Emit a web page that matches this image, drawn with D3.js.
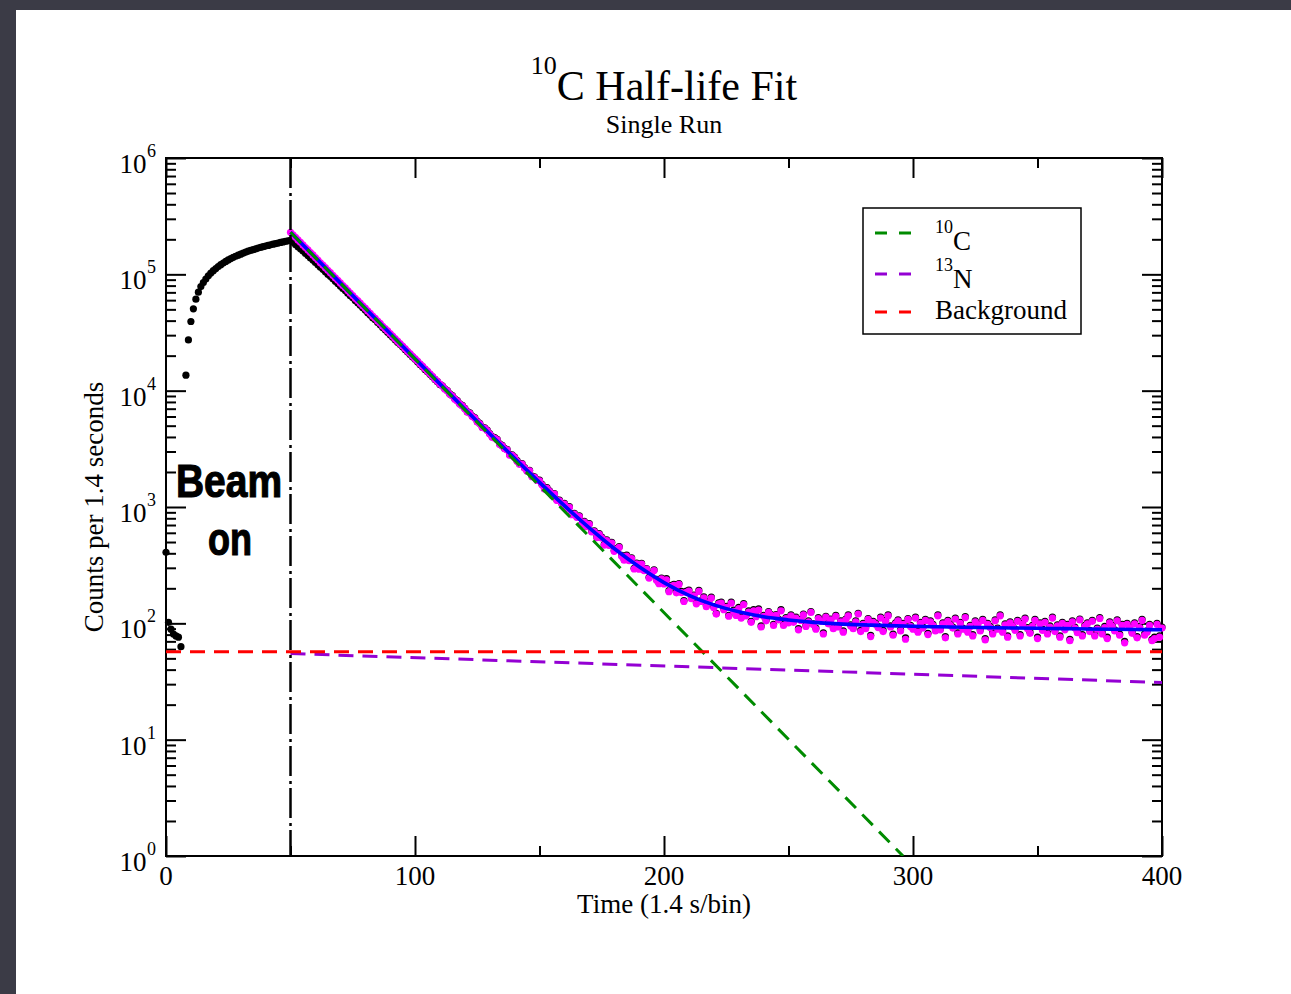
<!DOCTYPE html>
<html><head><meta charset="utf-8">
<script src="https://cdn.jsdelivr.net/npm/d3@7/dist/d3.min.js"></script>
<style>
html,body{margin:0;padding:0;background:#3b3b46;}
svg{display:block}
text{font-family:"Liberation Serif","Times New Roman",serif;fill:#000}
</style></head><body>
<svg id="chart" width="1291" height="994"></svg>
<script>
// ---------------- data ----------------
// raw counts (black), one value per bin starting at bin 0 (null = no point)
const rawCounts = [
  408,102,89,81,78,76,63,null,13600,27300,
  39300,50500,61200,70300,78500,85000,91000,97000,102500,107500,
  112000,116500,121000,125000,129000,133000,136500,140000,143000,146000,
  149000,152000,155000,158000,160500,163000,165500,168000,170500,173000,
  175000,177200,179400,181600,183700,185800,187900,190000,192000,194000,
  196000,
  188500,180800,172800,165600,158400,151200,145000,138400,132500,126400,
  121000,115200,110400,105200,100300,96100,91500,87200,83500,79500,
  75700,72500,68900,65600,62800,59600,57000,54300,51600,49400,
  46800,44800,42400,40700,38600,36900,34900,33400,31800,30300,
  28800,27400,26100,24900,23800,22600,21500,20500,19500,18600,
  17700,16800,16060,15230,14540,13810,13170,12480,11940,11310,
  11000,10380,10030,9380,9080,8520,8220,7720,7470,7060,
  6600,6450,6050,5870,5440,5240,4870,4800,4590,4280,
  4020,3940,3820,3490,3380,3200,3120,2820,2810,2690,
  2500,2350,2360,2180,2050,2070,1840,1820,1710,1700,
  1565,1440,1465,1380,1275,1305,1150,1145,1070,1075,
  976,1007,871,883,828,838,714,751,687,721,
  619,624,552,592,550,477,523,474,497,422,
  442,456,384,354,385,350,366,297,330,296,
  328,288,296,249,269,288,239,222,245,222,
  242,191,212,216,187,220,188,157,189,193,
  166,175,150,192,157,169,142,154,168,139,
  122,150,152,134,140,117,152,130,119,137,
  113,148,118,128,104,131,116,133,95,117,
  107,126,119,98,119,109,131,98,112,103,
  118,104,113,90,108,120,96,105,126,99,
  91,112,106,83,115,101,109,92,117,95,
  105,86,109,118,97,92,105,122,87,100,
  92,110,79,104,100,94,113,87,106,118,
  95,81,101,107,88,100,75,110,96,91,
  113,86,102,93,108,82,105,98,88,118,
  90,101,77,106,98,93,111,83,102,91,
  114,86,96,80,105,99,88,108,74,100,
  94,83,107,91,118,86,99,78,103,96,
  89,106,80,100,111,92,84,96,108,76,
  101,89,104,83,95,113,87,97,78,102,
  90,98,73,105,93,85,109,80,96,101,
  87,106,80,91,112,83,94,76,103,96,
  88,107,81,98,70,100,93,84,101,77,
  94,108,81,86,98,73,76,100,78,93
];
const rawStartBin = 0;

// corrected counts (magenta), one value per bin starting at bin 50
const corrCounts = [
  230100,218600,208300,197700,188400,179100,170000,162200,153900,146700,
  139200,132700,125800,120100,114000,108200,103400,98100,93100,88900,
  84400,80100,76500,72500,68900,65800,62300,59500,56500,53600,
  51200,48500,46300,43800,41900,39700,37900,35800,34200,32600,
  31000,29450,28000,26650,25350,24200,22950,21800,20850,19750,
  18850,17950,17000,16250,15400,14700,13950,13300,12600,12050,
  11400,10950,10300,9950,9300,9000,8450,8150,7650,7400,
  7000,6540,6390,5990,5820,5390,5190,4825,4750,4540,
  4240,3980,3900,3785,3450,3350,3165,3090,2790,2780,
  2660,2470,2330,2340,2160,2030,2050,1820,1800,1690,
  1680,1550,1425,1450,1365,1260,1290,1140,1130,1060,
  1060,961,992,858,870,815,825,703,740,677,
  710,610,614,544,583,542,470,515,467,490,
  416,435,449,378,349,379,345,361,293,325,
  292,323,284,292,245,265,284,235,219,241,
  218,237,187,208,212,183,216,184,154,185,
  189,163,172,147,188,154,166,139,151,165,
  136,120,147,149,131,137,115,149,127,117,
  134,111,145,116,125,102,128,114,130,93,
  115,105,124,117,96,117,107,128,96,110,
  101,
  116,102,111,88,106,118,94,103,124,97,
  89,110,104,81,113,99,107,90,115,93,
  103,84,107,116,95,90,103,120,85,98,
  90,108,77,102,98,92,111,85,104,116,
  93,79,99,105,86,98,73,108,94,89,
  111,84,100,91,106,80,103,96,86,116,
  88,99,75,104,96,91,109,81,100,89,
  112,84,94,78,103,97,86,106,72,98,
  92,81,105,89,116,84,97,76,101,94,
  87,104,78,98,109,90,82,94,106,74,
  99,87,102,81,93,111,85,95,76,100,
  88,96,71,103,91,83,107,78,94,99,
  85,104,78,89,110,81,92,74,101,94,
  86,105,79,96,68,98,91,82,99,75,
  92,106,79,84,96,71,74,98,76,91
];
const corrStartBin = 50;

// total fit (blue)
const fitTime  = [50,60,70,80,90,100,110,120,130,140,150,160,170,180,190,200,210,220,230,240,250,260,270,280,290,300,310,320,330,340,350,360,370,380,390,400];
const fitTotal = [230100,139400,84430,51170,31030,18830,11440,6970,4260,2620,1628,1026,661,440,306,224,174,144,126,114,107,102,99,97,95.5,94.3,93.4,92.6,91.9,91.2,90.6,90.1,89.5,89,88.5,88];

// fit components (dashed)
const c10Time = [50,296],  c10Counts = [230000,1];
const n13Time = [50,400],  n13Counts = [55,31];
const bgTime  = [0,400],   bgCounts  = [57,57];

const beamOffBin = 50;

// ticks
const xMajorTicks = [0,100,200,300,400];
const xMinorTicks = [50,150,250,350];
const yExponents  = [0,1,2,3,4,5,6];

// legend
const legendSup   = ["10","13",""];
const legendMain  = ["C","N","Background"];
const legendColor = ["#008b00","#9400d3","#ff0000"];

// ---------------- drawing ----------------
const W = 1291, H = 994;
const svg = d3.select("#chart");
svg.append("rect").attr("width",W).attr("height",H).attr("fill","#3b3b46");
svg.append("rect").attr("x",16).attr("y",10).attr("width",W-16).attr("height",H-10).attr("fill","#ffffff");

const P = {left:166, right:1162, top:158, bottom:856};
const x = d3.scaleLinear().domain([0,400]).range([P.left,P.right]);
const y = d3.scaleLog().domain([1,1e6]).range([P.bottom,P.top]);

const majorY = yExponents.map(e => Math.pow(10,e));
const minorY = [];
yExponents.slice(0,-1).forEach(e => { for (let m=2;m<=9;m++) minorY.push(m*Math.pow(10,e)); });

function styleAxis(g){
  g.select(".domain").remove();
  g.selectAll(".tick line").attr("stroke","#000").attr("stroke-width",2);
}
svg.append("g").attr("transform",`translate(0,${P.bottom})`)
  .call(d3.axisBottom(x).tickValues(xMajorTicks).tickSizeInner(-20).tickSizeOuter(0).tickFormat("")).call(styleAxis);
svg.append("g").attr("transform",`translate(0,${P.bottom})`)
  .call(d3.axisBottom(x).tickValues(xMinorTicks).tickSizeInner(-10).tickSizeOuter(0).tickFormat("")).call(styleAxis);
svg.append("g").attr("transform",`translate(0,${P.top})`)
  .call(d3.axisTop(x).tickValues(xMajorTicks).tickSizeInner(-20).tickSizeOuter(0).tickFormat("")).call(styleAxis);
svg.append("g").attr("transform",`translate(0,${P.top})`)
  .call(d3.axisTop(x).tickValues(xMinorTicks).tickSizeInner(-10).tickSizeOuter(0).tickFormat("")).call(styleAxis);
svg.append("g").attr("transform",`translate(${P.left},0)`)
  .call(d3.axisLeft(y).tickValues(majorY).tickSizeInner(-20).tickSizeOuter(0).tickFormat("")).call(styleAxis);
svg.append("g").attr("transform",`translate(${P.left},0)`)
  .call(d3.axisLeft(y).tickValues(minorY).tickSizeInner(-10).tickSizeOuter(0).tickFormat("")).call(styleAxis);
svg.append("g").attr("transform",`translate(${P.right},0)`)
  .call(d3.axisRight(y).tickValues(majorY).tickSizeInner(-20).tickSizeOuter(0).tickFormat("")).call(styleAxis);
svg.append("g").attr("transform",`translate(${P.right},0)`)
  .call(d3.axisRight(y).tickValues(minorY).tickSizeInner(-10).tickSizeOuter(0).tickFormat("")).call(styleAxis);

svg.append("rect").attr("x",P.left).attr("y",P.top).attr("width",P.right-P.left).attr("height",P.bottom-P.top)
  .attr("fill","none").attr("stroke","#000").attr("stroke-width",2);

const lab = svg.append("g");
xMajorTicks.forEach(v => {
  lab.append("text").attr("x",x(v)).attr("y",885).attr("text-anchor","middle").style("font-size","27px").text(v);
});
yExponents.forEach(e => {
  const yy = y(Math.pow(10,e));
  lab.append("text").attr("x",146.5).attr("y",yy+15).attr("text-anchor","end").style("font-size","27px").text("10");
  lab.append("text").attr("x",147).attr("y",yy-1).attr("text-anchor","start").style("font-size","18px").text(e);
});

svg.append("text").attr("x",(P.left+P.right)/2).attr("y",913).attr("text-anchor","middle").style("font-size","27px").text("Time (1.4 s/bin)");
svg.append("text").attr("transform",`translate(103,${(P.top+P.bottom)/2}) rotate(-90)`).attr("text-anchor","middle").style("font-size","27px").text("Counts per 1.4 seconds");

const title = svg.append("text").attr("x",(P.left+P.right)/2).attr("y",100).attr("text-anchor","middle").style("font-size","42px");
title.append("tspan").attr("dy",-26).style("font-size","26px").text("10");
title.append("tspan").attr("dy",26).text("C Half-life Fit");
svg.append("text").attr("x",(P.left+P.right)/2).attr("y",133).attr("text-anchor","middle").style("font-size","26px").text("Single Run");

svg.append("clipPath").attr("id","clip").append("rect")
  .attr("x",P.left).attr("y",P.top).attr("width",P.right-P.left).attr("height",P.bottom-P.top);

const rawPts = rawCounts.map((c,i)=>({t:rawStartBin+i,c})).filter(d=>d.c!=null);
const corrPts = corrCounts.map((c,i)=>({t:corrStartBin+i,c}));
svg.append("g").selectAll("circle").data(rawPts).join("circle")
  .attr("cx",d=>x(d.t)).attr("cy",d=>y(d.c)).attr("r",3.6).attr("fill","#000");
svg.append("g").selectAll("circle").data(corrPts).join("circle")
  .attr("cx",d=>x(d.t)).attr("cy",d=>y(d.c)).attr("r",3.6).attr("fill","#ff00ff");

const lines = svg.append("g").attr("clip-path","url(#clip)");
lines.append("path").datum(fitTime.map((t,i)=>[t,fitTotal[i]]))
  .attr("d",d3.line().x(d=>x(d[0])).y(d=>y(d[1])).curve(d3.curveMonotoneX))
  .attr("fill","none").attr("stroke","#0000ff").attr("stroke-width",3.6);
const lineStraight = d3.line().x(d=>x(d[0])).y(d=>y(d[1]));
const dash = "15,9";
[[c10Time,c10Counts],[n13Time,n13Counts],[bgTime,bgCounts]].forEach(([ts,cs],k)=>{
  lines.append("path").datum(ts.map((t,i)=>[t,cs[i]])).attr("d",lineStraight)
    .attr("fill","none").attr("stroke",legendColor[k]).attr("stroke-width",3).attr("stroke-dasharray",dash);
});

svg.append("line").attr("x1",x(beamOffBin)).attr("x2",x(beamOffBin)).attr("y1",P.top).attr("y2",P.bottom)
  .attr("stroke","#000").attr("stroke-width",2.5).attr("stroke-dasharray","30,5,3,4");

// Beam on text (condensed heavy sans)
const beamFont = '"Liberation Sans Narrow","Liberation Sans",Arial,sans-serif';
svg.append("text").attr("x",176).attr("y",497)
  .attr("textLength",106).attr("lengthAdjust","spacingAndGlyphs")
  .style("font-family",beamFont).style("font-weight","700").style("font-size","47px")
  .attr("stroke","#000").attr("stroke-width",1.2).text("Beam");
svg.append("text").attr("x",208).attr("y",555)
  .attr("textLength",44).attr("lengthAdjust","spacingAndGlyphs")
  .style("font-family",beamFont).style("font-weight","700").style("font-size","47px")
  .attr("stroke","#000").attr("stroke-width",1.2).text("on");

// legend
const lg = svg.append("g");
lg.append("rect").attr("x",863).attr("y",208).attr("width",218).attr("height",126)
  .attr("fill","#fff").attr("stroke","#000").attr("stroke-width",1.5);
const rowLineY = [233,274,312];
const rowTextY = [250,288,319];
legendMain.forEach((m,i)=>{
  lg.append("line").attr("x1",875).attr("x2",913).attr("y1",rowLineY[i]).attr("y2",rowLineY[i])
    .attr("stroke",legendColor[i]).attr("stroke-width",3).attr("stroke-dasharray","12,12");
  const t = lg.append("text").attr("x",935).attr("y",rowTextY[i]).style("font-size","27px");
  if (legendSup[i]) {
    t.append("tspan").attr("dy",-17).style("font-size","18px").text(legendSup[i]);
    t.append("tspan").attr("dy",17).text(m);
  } else {
    t.append("tspan").text(m);
  }
});
</script>
</body></html>
